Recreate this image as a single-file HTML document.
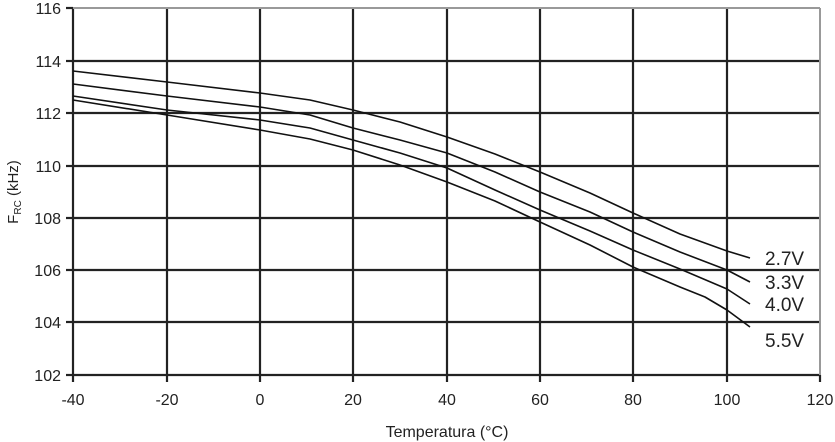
<!DOCTYPE html>
<html><head><meta charset="utf-8"><style>
body{margin:0;background:#fff}
svg{display:block;font-family:"Liberation Sans",Arial,sans-serif}
</style></head><body>
<svg width="835" height="442" viewBox="0 0 835 442">
<g stroke="#222" stroke-width="2.2" fill="none">
<line x1="73" y1="61" x2="820" y2="61"/>
<line x1="73" y1="113" x2="820" y2="113"/>
<line x1="73" y1="166" x2="820" y2="166"/>
<line x1="73" y1="218" x2="820" y2="218"/>
<line x1="73" y1="270" x2="820" y2="270"/>
<line x1="73" y1="322" x2="820" y2="322"/>
<line x1="73" y1="375" x2="820" y2="375"/>
<line x1="167" y1="8" x2="167" y2="382"/>
<line x1="260" y1="8" x2="260" y2="382"/>
<line x1="353" y1="8" x2="353" y2="382"/>
<line x1="447" y1="8" x2="447" y2="382"/>
<line x1="540" y1="8" x2="540" y2="382"/>
<line x1="633" y1="8" x2="633" y2="382"/>
<line x1="727" y1="8" x2="727" y2="382"/>
<line x1="73" y1="8" x2="73" y2="382"/>
<line x1="820" y1="375" x2="820" y2="382"/>
<line x1="66" y1="8" x2="73" y2="8"/><line x1="66" y1="61" x2="73" y2="61"/><line x1="66" y1="113" x2="73" y2="113"/><line x1="66" y1="166" x2="73" y2="166"/><line x1="66" y1="218" x2="73" y2="218"/><line x1="66" y1="270" x2="73" y2="270"/><line x1="66" y1="322" x2="73" y2="322"/><line x1="66" y1="375" x2="73" y2="375"/>
</g>
<g stroke="#999" stroke-width="2" fill="none">
<line x1="73" y1="8" x2="820" y2="8"/>
<line x1="820" y1="8" x2="820" y2="375"/>
</g>
<g stroke="#111" stroke-width="1.6" fill="none" stroke-linejoin="round">
<path d="M73,71 L167,82 L260,93 L310,100 L353,110 L400,122 L447,137 L495,154 L540,172 L590,193 L633,213 L680,234 L727,251 L750,258"/>
<path d="M73,84 L167,96 L260,107 L310,115 L353,128 L400,140 L447,153 L495,172 L540,192 L590,212 L633,232 L680,252 L727,270 L750,282"/>
<path d="M73,96 L167,110 L260,120 L310,128 L353,140 L400,153 L447,168 L495,190 L540,210 L590,231 L633,250 L680,269 L727,289 L750,304"/>
<path d="M73,100 L167,115 L260,130 L310,139 L353,150 L400,165 L447,182 L495,201 L540,222 L590,245 L633,267 L680,287 L705,297 L727,310 L750,327"/>
</g>
<g font-size="19" fill="#222">
<text x="765" y="265">2.7V</text>
<text x="765" y="289">3.3V</text>
<text x="765" y="311">4.0V</text>
<text x="765" y="347">5.5V</text>
</g>
<g font-size="16" fill="#222" text-anchor="end">
<text x="61" y="14">116</text><text x="61" y="67">114</text><text x="61" y="119">112</text><text x="61" y="172">110</text><text x="61" y="224">108</text><text x="61" y="276">106</text><text x="61" y="328">104</text><text x="61" y="381">102</text>
</g>
<g font-size="16" fill="#222" text-anchor="middle">
<text x="73" y="405">-40</text><text x="167" y="405">-20</text><text x="260" y="405">0</text><text x="353" y="405">20</text><text x="447" y="405">40</text><text x="540" y="405">60</text><text x="633" y="405">80</text><text x="727" y="405">100</text><text x="820" y="405">120</text>
<text x="447" y="437">Temperatura (°C)</text>
</g>
<text transform="translate(18,192) rotate(-90)" font-size="15" fill="#222" text-anchor="middle">F<tspan font-size="10" dy="3">RC</tspan><tspan dy="-3"> (kHz)</tspan></text>
</svg>
</body></html>
